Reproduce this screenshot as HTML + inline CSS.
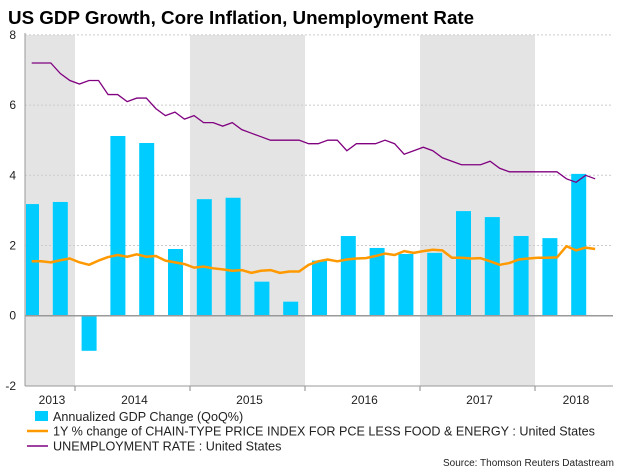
<!DOCTYPE html>
<html><head><meta charset="utf-8"><style>
body{margin:0;background:#fff;font-family:"Liberation Sans",sans-serif;}
svg text{font-family:"Liberation Sans",sans-serif;}
</style></head><body>
<svg id="chart" width="626" height="469" xmlns="http://www.w3.org/2000/svg">
<text x="8" y="24" font-size="18.8" font-weight="bold" fill="#000">US GDP Growth, Core Inflation, Unemployment Rate</text>
<g id="bands"></g><g id="grid"></g><g id="bars"></g><g id="lines"></g><g id="axes"></g>
<g>
<rect x="35" y="411" width="13" height="10" fill="#00ccff"/>
<text x="53" y="421" font-size="12.6" fill="#222">Annualized GDP Change (QoQ%)</text>
<line x1="27" y1="431" x2="48" y2="431" stroke="#ff9900" stroke-width="2.5"/>
<text x="53" y="435.5" font-size="12.6" fill="#222">1Y % change of CHAIN-TYPE PRICE INDEX FOR PCE LESS FOOD &amp; ENERGY : United States</text>
<line x1="27" y1="446" x2="48" y2="446" stroke="#800080" stroke-width="1.5"/>
<text x="53" y="450.5" font-size="12.6" fill="#222">UNEMPLOYMENT RATE : United States</text>
</g>
<text x="614" y="466" font-size="10" fill="#222" text-anchor="end">Source: Thomson Reuters Datastream</text>
</svg>
<script>
const years=["2013","2014","2015","2016","2017","2018"];
const yTicks=[-2,0,2,4,6,8];
const gdp=[3.18,3.24,-1.0,5.12,4.92,1.9,3.32,3.36,0.97,0.40,1.57,2.27,1.93,1.76,1.79,2.98,2.81,2.27,2.21,4.04];
const pce=[1.55,1.55,1.52,1.58,1.63,1.52,1.45,1.57,1.67,1.73,1.68,1.75,1.68,1.70,1.57,1.52,1.47,1.37,1.40,1.35,1.32,1.28,1.30,1.22,1.28,1.30,1.22,1.26,1.26,1.45,1.55,1.60,1.55,1.60,1.63,1.64,1.70,1.77,1.73,1.84,1.79,1.84,1.88,1.86,1.65,1.65,1.63,1.64,1.55,1.45,1.50,1.60,1.63,1.65,1.65,1.66,1.98,1.86,1.94,1.90];
const unemp=[7.2,7.2,7.2,6.9,6.7,6.6,6.7,6.7,6.3,6.3,6.1,6.2,6.2,5.9,5.7,5.8,5.6,5.7,5.5,5.5,5.4,5.5,5.3,5.2,5.1,5.0,5.0,5.0,5.0,4.9,4.9,5.0,5.0,4.7,4.9,4.9,4.9,5.0,4.9,4.6,4.7,4.8,4.7,4.5,4.4,4.3,4.3,4.3,4.4,4.2,4.1,4.1,4.1,4.1,4.1,4.1,3.9,3.8,4.0,3.9];
const NS="http://www.w3.org/2000/svg";
const L=25,R=613,T=35,B=386;
const y=v=>315.7-v*35.1;
const yearX=i=>-40+115*i;
const qx=i=>31.5+28.8*i;
const mx=j=>31.7+9.55*j;
function mk(tag,attrs,parent){const e=document.createElementNS(NS,tag);for(const k in attrs)e.setAttribute(k,attrs[k]);document.getElementById(parent).appendChild(e);return e;}
years.forEach((yr,i)=>{
  const x0=Math.max(L,yearX(i)),x1=Math.min(R,yearX(i+1));
  if(i%2===0){const r=mk('rect',{x:x0,y:T,width:x1-x0,height:B-T,fill:'#e4e4e4'},'bands');
  
  }
  const t=mk('text',{x:(x0+x1)/2+2,y:404,'font-size':12,'text-anchor':'middle',fill:'#222'},'axes');t.textContent=yr;
  
  
  if(i>0){const tk=mk('line',{x1:yearX(i),x2:yearX(i),y1:B,y2:B+5,stroke:'#888'},'axes');
  
  }
});
yTicks.forEach(v=>{
  if(v!==0&&v!==-2){const g=mk('line',{x1:L,x2:R,y1:y(v),y2:y(v),stroke:'#ccc','stroke-dasharray':'2,2'},'grid');
  
  }
  const t=mk('text',{x:16,y:y(v)+4,'font-size':12,'text-anchor':'end',fill:'#222'},'axes');t.textContent=v;
  
  
});
gdp.forEach((v,i)=>{
  let x0=qx(i)-7.5,x1=qx(i)+7.5;x0=Math.max(x0,L+1);
  const b=mk('rect',{x:x0,y:Math.min(y(v),y(0)),width:x1-x0,height:Math.abs(y(v)-y(0)),fill:'#00ccff'},'bars');
  
  
});
const z=mk('line',{x1:L,x2:R,y1:y(0),y2:y(0),stroke:'#999','stroke-width':1.5},'axes');


const ax=mk('line',{x1:L,x2:L,y1:T-2,y2:B,stroke:'#999'},'axes');


const bx=mk('line',{x1:L,x2:R,y1:B,y2:B,stroke:'#999'},'axes');


const p1=mk('polyline',{points:pce.map((v,j)=>mx(j)+','+y(v)).join(' '),fill:'none',stroke:'#ff9900','stroke-width':2.5,'stroke-linejoin':'round'},'lines');


const p2=mk('polyline',{points:unemp.map((v,j)=>mx(j)+','+y(v)).join(' '),fill:'none',stroke:'#800080','stroke-width':1.3},'lines');


</script>
</body></html>
